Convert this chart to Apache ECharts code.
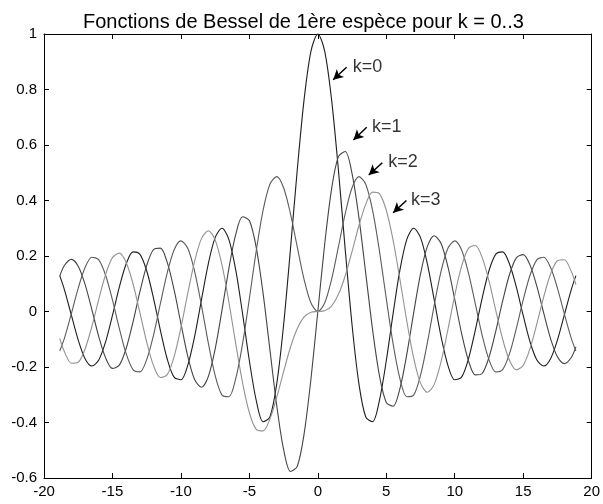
<!DOCTYPE html>
<html>
<head>
<meta charset="utf-8">
<script src="https://cdn.jsdelivr.net/npm/echarts@6/dist/echarts.min.js"></script>
<style>
html,body{margin:0;padding:0;background:#fff;}
#chart{width:603px;height:504px;}
</style>
</head>
<body>
<div id="chart"></div>
<script>
const xs = [-18.85,-18.5,-18,-17.5,-17,-16.5,-16,-15.5,-15,-14.5,-14,-13.5,-13,-12.5,-12,-11.5,-11,-10.5,-10,-9.5,-9,-8.5,-8,-7.5,-7,-6.5,-6,-5.5,-5,-4.5,-4,-3.5,-3,-2.5,-2,-1.5,-1,-0.5,0,0.5,1,1.5,2,2.5,3,3.5,4,4.5,5,5.5,6,6.5,7,7.5,8,8.5,9,9.5,10,10.5,11,11.5,12,12.5,13,13.5,14,14.5,15,15.5,16,16.5,17,17.5,18,18.5,18.85];

const j0 = [0.1291,0.0772,-0.0134,-0.1031,-0.1699,-0.1964,-0.1749,-0.1092,-0.0142,0.0875,0.1711,0.2150,0.2069,0.1469,0.0477,-0.0677,-0.1712,-0.2366,-0.2459,-0.1939,-0.0903,0.0419,0.1717,0.2663,0.3001,0.2601,0.1506,-0.0068,-0.1776,-0.3205,-0.3971,-0.3801,-0.2601,-0.0484,0.2239,0.5118,0.7652,0.9385,
1,
0.9385,0.7652,0.5118,0.2239,-0.0484,-0.2601,-0.3801,-0.3971,-0.3205,-0.1776,-0.0068,0.1506,0.2601,0.3001,0.2663,0.1717,0.0419,-0.0903,-0.1939,-0.2459,-0.2366,-0.1712,-0.0677,0.0477,0.1469,0.2069,0.2150,0.1711,0.0875,-0.0142,-0.1092,-0.1749,-0.1964,-0.1699,-0.1031,-0.0134,0.0772,0.1291];

const j1 = [0.1274,0.1666,0.1880,0.1634,0.0977,0.0058,-0.0904,-0.1672,-0.2051,-0.1934,-0.1334,-0.0380,0.0703,0.1655,0.2234,0.2284,0.1768,0.0789,-0.0435,-0.1613,-0.2453,-0.2731,-0.2346,-0.1352,0.0047,0.1538,0.2767,0.3414,0.3276,0.2311,0.0660,-0.1374,-0.3391,-0.4971,-0.5767,-0.5579,-0.4401,-0.2423,
0,
0.2423,0.4401,0.5579,0.5767,0.4971,0.3391,0.1374,-0.0660,-0.2311,-0.3276,-0.3414,-0.2767,-0.1538,-0.0047,0.1352,0.2346,0.2731,0.2453,0.1613,0.0435,-0.0789,-0.1768,-0.2284,-0.2234,-0.1655,-0.0703,0.0380,0.1334,0.1934,0.2051,0.1672,0.0904,-0.0058,-0.0977,-0.1634,-0.1880,-0.1666,-0.1274];

const j2 = [-0.1426,-0.0952,-0.0075,0.0844,0.1584,0.1957,0.1862,0.1308,0.0416,-0.0608,-0.1520,-0.2094,-0.2177,-0.1734,-0.0849,0.0280,0.1391,0.2216,0.2546,0.2279,0.1448,0.0224,-0.1130,-0.2303,-0.3014,-0.3074,-0.2429,-0.1173,0.0466,0.2178,0.3641,0.4586,0.4861,0.4461,0.3528,0.2321,0.1149,0.0306,
0,
0.0306,0.1149,0.2321,0.3528,0.4461,0.4861,0.4586,0.3641,0.2178,0.0466,-0.1173,-0.2429,-0.3074,-0.3014,-0.2303,-0.1130,0.0224,0.1448,0.2279,0.2546,0.2216,0.1391,0.0280,-0.0849,-0.1734,-0.2177,-0.2094,-0.1520,-0.0608,0.0416,0.1308,0.1862,0.1957,0.1584,0.0844,-0.0075,-0.0952,-0.1426];

const j3 = [-0.0972,-0.1460,-0.1863,-0.1827,-0.1350,-0.0532,0.0439,0.1334,0.1940,0.2102,0.1768,0.1000,-0.0033,-0.1100,-0.1951,-0.2381,-0.2274,-0.1633,-0.0584,0.0653,0.1809,0.2626,0.2911,0.2580,0.1676,0.0354,-0.1148,-0.2561,-0.3648,-0.4247,-0.4302,-0.3868,-0.3091,-0.2166,-0.1289,-0.0610,-0.0196,-0.0026,
0,
0.0026,0.0196,0.0610,0.1289,0.2166,0.3091,0.3868,0.4302,0.4247,0.3648,0.2561,0.1148,-0.0354,-0.1676,-0.2580,-0.2911,-0.2626,-0.1809,-0.0653,0.0584,0.1633,0.2274,0.2381,0.1951,0.1100,0.0033,-0.1000,-0.1768,-0.2102,-0.1940,-0.1334,-0.0439,0.0532,0.1350,0.1827,0.1863,0.1460,0.0972];

const titleText = "Fonctions de Bessel de 1ère espèce pour k = 0..3";
const xTicks = [-20,-15,-10,-5,0,5,10,15,20];
const yTicks = [-0.6,-0.4,-0.2,0,0.2,0.4,0.6,0.8,1];

// annotations: label text, label anchor (x,y), arrow tail (x,y), arrow head (x,y)
const annLabels = ["k=0","k=1","k=2","k=3"];
const annTextX = [2.55, 3.95, 5.15, 6.8];
const annTextY = [0.88, 0.665, 0.537, 0.402];
const arrowTailX = [2.1, 3.57, 4.71, 6.47];
const arrowTailY = [0.88, 0.664, 0.536, 0.40];
const arrowHeadX = [1.12, 2.6, 3.72, 5.5];
const arrowHeadY = [0.835, 0.618, 0.492, 0.356];

const seriesColors = ['#1e1e1e','#444444','#5c5c5c','#929292'];
const FONT = 'Liberation Sans, Arial, sans-serif';

const chart = echarts.init(document.getElementById('chart'), null, {renderer:'canvas'});

function mkLine(vals, color){
  return {
    type:'line', data: xs.map((x,i)=>[x, vals[i]]),
    showSymbol:false, smooth:0.3, clip:false,
    lineStyle:{color:color, width:1.1}, itemStyle:{color:color},
    animation:false, silent:true, z:2
  };
}

const fmtY = v => String(+v.toFixed(1));
const axisCommon = {
  axisLine:{show:true, onZero:false, lineStyle:{color:'#000', width:1}},
  axisTick:{show:true, inside:true, length:5, lineStyle:{color:'#000'}},
  splitLine:{show:false}
};

const option = {
  backgroundColor:'#fff',
  animation:false,
  title:{text:titleText, left:78, textAlign:'left', top:7,
    textStyle:{fontFamily:FONT, fontSize:20, fontWeight:'normal', color:'#000'}},
  grid:{left:44, right:7, top:34, bottom:26, containLabel:false},
  xAxis:[
    Object.assign({type:'value', min:-20, max:20, interval:5, position:'bottom',
      axisLabel:{color:'#000', fontFamily:FONT, fontSize:15, margin:6}}, axisCommon),
    Object.assign({type:'value', min:-20, max:20, interval:5, position:'top',
      axisLabel:{show:false}}, axisCommon)
  ],
  yAxis:[
    Object.assign({type:'value', min:-0.6, max:1, interval:0.2, position:'left',
      axisLabel:{color:'#000', fontFamily:FONT, fontSize:15, margin:7, formatter:fmtY}}, axisCommon),
    Object.assign({type:'value', min:-0.6, max:1, interval:0.2, position:'right',
      axisLabel:{show:false}}, axisCommon)
  ],
  series:[
    mkLine(j0, seriesColors[0]),
    mkLine(j1, seriesColors[1]),
    mkLine(j2, seriesColors[2]),
    mkLine(j3, seriesColors[3]),
    {
      type:'scatter', symbolSize:0, silent:true, animation:false, z:5,
      data: annLabels.map((t,i)=>({value:[annTextX[i], annTextY[i]], name:t})),
      label:{show:true, position:'right', distance:0, formatter:p=>p.name,
        fontFamily:FONT, fontSize:18, color:'#000'},
      markLine:{
        silent:true, animation:false, symbol:['none','arrow'], symbolSize:[8,10],
        label:{show:false},
        lineStyle:{color:'#000', width:1.5, type:'solid'},
        data: annLabels.map((t,i)=>[
          {coord:[arrowTailX[i], arrowTailY[i]]},
          {coord:[arrowHeadX[i], arrowHeadY[i]]}
        ])
      }
    }
  ]
};
chart.setOption(option);
</script>
</body>
</html>
